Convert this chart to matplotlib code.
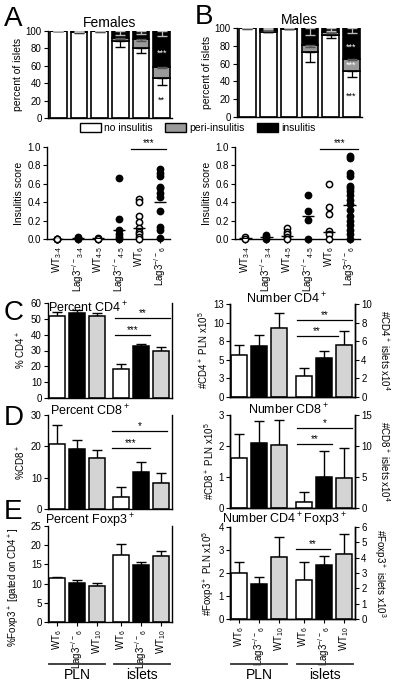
import numpy as np
import matplotlib
matplotlib.use("Agg")
import matplotlib.pyplot as plt
from matplotlib.patches import Patch
import matplotlib.transforms as mtrans

plt.rcParams['font.family'] = ['Liberation Sans', 'DejaVu Sans']
plt.rcParams['mathtext.default'] = 'regular'
plt.rcParams['font.size'] = 7
plt.rcParams['axes.linewidth'] = 1.0
plt.rcParams['xtick.major.size'] = 3
plt.rcParams['ytick.major.size'] = 3
plt.rcParams['xtick.major.pad'] = 2
plt.rcParams['ytick.major.pad'] = 1.5

# ---- data ----
# stacked insulitis bars (percent of islets), 6 groups
ins_groups = ['WT$_{3\u20114}$', 'Lag3$^{-/-}$$_{3\u20114}$', 'WT$_{4\u20115}$',
              'Lag3$^{-/-}$$_{4\u20115}$', 'WT$_6$', 'Lag3$^{-/-}$$_6$']
f_no = np.array([100, 98.5, 99.5, 88, 80, 45.5])
f_peri = np.array([0, 0.5, 0.2, 4, 10.5, 13.5])
f_ins = 100 - f_no - f_peri
f_err_no = np.array([0, 0.5, 0.3, 6, 5.5, 8])
f_err_peri = np.array([0, 0, 0, 1, 1.5, 1])
f_err_ins = np.array([0, 1, 0.3, 5, 3, 6])

m_no = np.array([99.5, 96, 99, 73.5, 92, 52])
m_peri = np.array([0.2, 1.5, 0.5, 7, 3, 13.5])
m_ins = 100 - m_no - m_peri
m_err_no = np.array([0.3, 1, 0.5, 12, 3.5, 7.5])
m_err_peri = np.array([0, 0.5, 0, 2, 1, 1.5])
m_err_ins = np.array([0, 1, 0, 8, 3, 6])

# insulitis scores per mouse
f_scores = [[0, 0, 0, 0],
            [0.02, 0.0, 0.01],
            [0.01, 0.0, 0.0],
            [0.66, 0.22, 0.10, 0.05, 0.02, 0.0],
            [0.44, 0.40, 0.25, 0.18, 0.12, 0.08, 0.05, 0.02, 0.0],
            [0.76, 0.72, 0.68, 0.57, 0.55, 0.50, 0.46, 0.30, 0.13, 0.10, 0.01]]
f_means = [0.0, 0.01, 0.01, 0.10, 0.12, 0.40]
m_scores = [[0.02, 0.0],
            [0.04, 0.02, 0.0],
            [0.12, 0.08, 0.05, 0.02, 0.0],
            [0.48, 0.30, 0.21, 0.0],
            [0.60, 0.35, 0.27, 0.09, 0.05, 0.0],
            [0.90, 0.88, 0.72, 0.68, 0.58, 0.55, 0.52, 0.48, 0.42, 0.38,
             0.32, 0.25, 0.20, 0.15, 0.10, 0.05, 0.0]]
m_means = [0.01, 0.02, 0.03, 0.25, 0.08, 0.37]

# flow cytometry bars: WT6, Lag3-/-6, WT10 in PLN then islets
cell_groups = ['WT$_6$', 'Lag3$^{-/-}$$_6$', 'WT$_{10}$']
pct_cd4 = [52, 54, 51.5, 18.5, 33, 29.5]
pct_cd4_err = [2.5, 1.3, 2.3, 2.8, 1.0, 2.5]
pct_cd8 = [20.7, 19.3, 16.2, 3.9, 11.9, 8.3]
pct_cd8_err = [6, 2.7, 2.7, 3.2, 3.2, 3.2]
pct_foxp3 = [11.4, 10.2, 9.4, 17.5, 14.8, 17.1]
pct_foxp3_err = [0.4, 0.7, 0.8, 2.8, 0.9, 1.3]

num_cd4_pln = [5.7, 6.8, 9.3]
num_cd4_pln_err = [1.3, 1.6, 2.0]
num_cd4_isl = [2.3, 4.2, 5.6]
num_cd4_isl_err = [0.8, 0.7, 1.5]
num_cd8_pln = [1.6, 2.1, 2.03]
num_cd8_pln_err = [0.8, 0.7, 0.8]
num_cd8_isl = [1.0, 5.0, 4.9]
num_cd8_isl_err = [1.6, 4.2, 4.8]
num_fox_pln = [1.98, 1.52, 2.7]
num_fox_pln_err = [0.52, 0.32, 0.87]
num_fox_isl = [2.55, 3.55, 4.25]
num_fox_isl_err = [1.2, 0.55, 1.3]

W, H = 400, 691
fig = plt.figure(figsize=(4, 6.91), dpi=100)


def box(l, t, r, b):
    return fig.add_axes([l / W, 1 - b / H, (r - l) / W, (b - t) / H])


def ftext(x, y, s, **kw):
    fig.text(x / W, 1 - y / H, s, **kw)


BAR_X = np.array([0, 1, 2, 3.2, 4.2, 5.2])
BAR_COL = ['white', 'black', '#d4d4d4']


def stacked(ax, no, peri, ins, e_no, e_peri, e_ins, title):
    x = np.arange(6)
    ax.bar(x, no, 0.8, color='white', edgecolor='black', lw=1.2)
    ax.bar(x, peri, 0.8, bottom=no, color='#9a9a9a', edgecolor='black', lw=1.2)
    ax.bar(x, ins, 0.8, bottom=no + peri, color='black', edgecolor='black', lw=1.2)
    z = np.zeros(6)
    ax.errorbar(x, no, yerr=[e_no, z], fmt='none', ecolor='black', capsize=3.5, lw=0.9)
    ax.errorbar(x, no + peri, yerr=[e_peri, z], fmt='none', ecolor='#555555', capsize=3.5, lw=0.9)
    ax.errorbar(x, no + peri + ins, yerr=[e_ins, z], fmt='none', ecolor='#bbbbbb', capsize=3.5, lw=0.9)
    ax.set_xlim(-0.5, 5.5)
    ax.set_ylim(0, 100)
    ax.set_yticks(range(0, 101, 20))
    ax.set_xticks([])
    ax.spines[['top', 'right']].set_visible(False)
    ax.set_ylabel('percent of islets', labelpad=2, fontsize=7.5)
    ax.set_title(title, fontsize=10, pad=3)


def scatter(ax, scores, means, sig_x):
    for i, vals in enumerate(scores):
        fc = 'white' if i % 2 == 0 else 'black'
        ax.plot([i] * len(vals), vals, 'o', mfc=fc, mec='black', ms=4.5,
                mew=1.1, clip_on=False, zorder=3)
        ax.hlines(means[i], i - 0.3, i + 0.3, color='black', lw=1, zorder=4)
    ax.set_xlim(-0.5, 5.5)
    ax.set_ylim(0, 1)
    ax.set_yticks(np.arange(0, 1.01, 0.2))
    ax.set_yticklabels([f'{v:.1f}' for v in np.arange(0, 1.01, 0.2)])
    ax.set_xticks(range(6))
    ax.set_xticklabels(ins_groups, rotation=90, fontsize=7)
    ax.spines[['top', 'right']].set_visible(False)
    ax.set_ylabel('Insulitis score', labelpad=2, fontsize=7.5)
    ax.plot(sig_x, [0.98, 0.98], color='black', lw=0.9, clip_on=False)
    ax.text(np.mean(sig_x), 0.99, '***', ha='center', va='bottom', fontsize=7)


def sig(ax, x0, x1, y, s):
    ax.plot([x0, x1], [y, y], color='black', lw=0.9, clip_on=False)
    ax.text((x0 + x1) / 2, y, s, ha='center', va='bottom', fontsize=7)


def pct_panel(ax, vals, errs, ylim, step, ylabel):
    ax.bar(BAR_X, vals, 0.8, color=BAR_COL * 2, edgecolor='black', lw=1.1, zorder=2)
    ax.errorbar(BAR_X, vals, yerr=[np.zeros(6), errs], fmt='none', ecolor='black',
                capsize=3.5, lw=1, capthick=1, zorder=1)
    ax.set_xlim(-0.45, 5.75)
    ax.set_ylim(0, ylim)
    ax.set_yticks(np.arange(0, ylim + 0.1, step))
    ax.spines['top'].set_visible(False)
    ax.tick_params(right=False)
    ax.set_xticks([])
    ax.set_ylabel(ylabel, labelpad=2)


def num_panel(ax, pln, pln_err, isl, isl_err, ylim, yticks, ylim2, yticks2,
              ylabel, ylabel2, yticklabels=None):
    ax2 = ax.twinx()
    ax.bar(BAR_X[:3], pln, 0.8, color=BAR_COL, edgecolor='black', lw=1.1, zorder=2)
    ax.errorbar(BAR_X[:3], pln, yerr=[np.zeros(3), pln_err], fmt='none', ecolor='black',
                capsize=3.5, lw=1, capthick=1, zorder=1)
    ax2.bar(BAR_X[3:], isl, 0.8, color=BAR_COL, edgecolor='black', lw=1.1, zorder=2)
    ax2.errorbar(BAR_X[3:], isl, yerr=[np.zeros(3), isl_err], fmt='none', ecolor='black',
                 capsize=3.5, lw=1, capthick=1, zorder=1)
    ax.set_xlim(-0.45, 5.75)
    ax.set_ylim(0, ylim)
    ax.set_yticks(yticks)
    if yticklabels is not None:
        ax.set_yticklabels(yticklabels)
    ax2.set_ylim(0, ylim2)
    ax2.set_yticks(yticks2)
    for a in (ax, ax2):
        a.spines['top'].set_visible(False)
    ax.set_xticks([])
    ax.set_ylabel(ylabel, labelpad=2)
    ax2.set_ylabel(ylabel2, rotation=270, va='bottom', labelpad=4)
    return ax2


def bottom_labels(ax):
    ax.set_xticks(BAR_X)
    ax.set_xticklabels(cell_groups * 2, rotation=90)
    tr = mtrans.blended_transform_factory(ax.transData, fig.transFigure)
    for c, name in [(1.0, 'PLN'), (4.25, 'islets')]:
        ax.plot([c - 1.4, c + 1.4], [1 - 664 / H] * 2, color='#333333', lw=1.3,
                transform=tr, clip_on=False)
        ax.text(c, 1 - 675 / H, name, transform=tr, ha='center', va='center',
                fontsize=10)


# ---- A / B stacked bars ----
axA = box(48, 31, 172, 118)
stacked(axA, f_no, f_peri, f_ins, f_err_no, f_err_peri, f_err_ins, 'Females')
axA.text(5, 75, '***', color='white', ha='center', va='center', fontsize=6.5)
axA.text(5, 20, '**', color='black', ha='center', va='center', fontsize=6.5)

axB = box(237, 28, 362, 117)
stacked(axB, m_no, m_peri, m_ins, m_err_no, m_err_peri, m_err_ins, 'Males')
axB.text(5, 78, '***', color='white', ha='center', va='center', fontsize=6.5)
axB.text(5, 58, '***', color='white', ha='center', va='center', fontsize=6.5)
axB.text(5, 23, '***', color='black', ha='center', va='center', fontsize=6.5)

handles = [Patch(fc='white', ec='black', label='no insulitis'),
           Patch(fc='#9a9a9a', ec='black', label='peri-insulitis'),
           Patch(fc='black', ec='black', label='insulitis')]
fig.legend(handles=handles, loc='center', bbox_to_anchor=(198 / W, 1 - 128 / H),
           ncol=3, frameon=False, fontsize=7.5, handlelength=2.0, handleheight=0.9,
           columnspacing=1.2, handletextpad=0.3)

# ---- scatter ----
axSA = box(47, 147, 170, 239)
scatter(axSA, f_scores, f_means, [3.6, 5.3])
axSB = box(235, 147, 360, 239)
scatter(axSB, m_scores, m_means, [3.6, 5.4])

# ---- C ----
axC1 = box(48, 303, 172, 398)
pct_panel(axC1, pct_cd4, pct_cd4_err, 60, 10, '% CD4$^+$')
sig(axC1, 2.9, 5.65, 50.5, '**')
sig(axC1, 2.9, 4.65, 40, '***')

axC2 = box(230, 304, 355, 397)
axC2b = num_panel(axC2, num_cd4_pln, num_cd4_pln_err, num_cd4_isl, num_cd4_isl_err,
                  12.5, [0, 2.5, 5, 7.5, 10, 12.5], 10, range(0, 11, 2),
                  '#CD4$^+$ PLN x10$^5$', '#CD4$^+$ islets x10$^4$',
                  yticklabels=['0', '3', '5', '8', '10', '13'])
sig(axC2b, 2.85, 5.6, 8.3, '**')
sig(axC2b, 2.85, 4.9, 6.6, '**')

# ---- D ----
axD1 = box(48, 415, 172, 509)
pct_panel(axD1, pct_cd8, pct_cd8_err, 30, 10, '%CD8$^+$')
sig(axD1, 2.75, 5.5, 25, '*')
sig(axD1, 2.75, 4.65, 19.6, '***')

axD2 = box(230, 415, 355, 508)
axD2b = num_panel(axD2, num_cd8_pln, num_cd8_pln_err, num_cd8_isl, num_cd8_isl_err,
                  3, [0, 1, 2, 3], 15, [0, 5, 10, 15],
                  '#CD8$^+$ PLN x10$^5$', '#CD8$^+$ islets x10$^4$')
sig(axD2b, 2.87, 5.6, 12.85, '*')
sig(axD2b, 2.87, 4.6, 10.3, '**')

# ---- E ----
axE1 = box(48, 526, 172, 622)
pct_panel(axE1, pct_foxp3, pct_foxp3_err, 25, 5, '%Foxp3$^+$ [gated on CD4$^+$]')
axE1.yaxis.set_label_coords(-0.21, 0.36)
bottom_labels(axE1)

axE2 = box(230, 527, 355, 619)
axE2b = num_panel(axE2, num_fox_pln, num_fox_pln_err, num_fox_isl, num_fox_isl_err,
                  4, [0, 1, 2, 3, 4], 6, range(0, 7),
                  '#Foxp3$^+$ PLN x10$^5$', '#Foxp3$^+$ islets x10$^3$')
sig(axE2b, 2.82, 4.5, 4.55, '**')
bottom_labels(axE2)

# ---- titles and panel letters ----
ftext(88, 308, 'Percent CD4$^+$', ha='center', va='center', fontsize=9)
ftext(287, 299, 'Number CD4$^+$', ha='center', va='center', fontsize=9)
ftext(90, 411, 'Percent CD8$^+$', ha='center', va='center', fontsize=9)
ftext(289, 410, 'Number CD8$^+$', ha='center', va='center', fontsize=9)
ftext(90, 521, 'Percent Foxp3$^+$', ha='center', va='center', fontsize=9)
ftext(285, 520, 'Number CD4$^+$Foxp3$^+$', ha='center', va='center', fontsize=9)

for lx, ly, s in [(4, 19, 'A'), (195, 17, 'B'), (4, 313, 'C'), (4, 418, 'D'), (4, 512, 'E')]:
    ftext(lx, ly, s, ha='left', va='center', fontsize=20)

fig.savefig('out.png', dpi=100)
